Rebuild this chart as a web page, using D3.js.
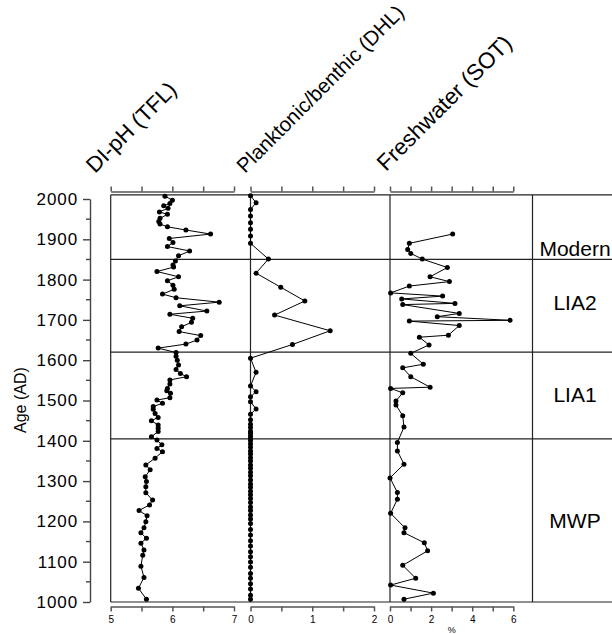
<!DOCTYPE html>
<html>
<head>
<meta charset="utf-8">
<script src="https://cdn.jsdelivr.net/npm/d3@7"></script>
<style>
  body { margin: 0; background: #fff; }
  text { font-family: Arial, "Liberation Sans", sans-serif; fill: #000; }
</style>
</head>
<body>
<div id="chart"></div>
<script>
// ---- data (age AD, value) ----
var phYears = [2007,1997,1989,1983,1977,1968,1962,1952,1944,1938,1931,1923,1913,1902,1892,1882,1871,1859,1846,1836,
  1831,1820,1807,1797,1786,1776,1764,1755,1744,1735,1722,1714,1704,1694,1683,1671,1661,1650,1640,1630,
  1619,1610,1600,1588,1577,1567,1559,1551,1541,1530,1524,1518,1507,1501,1493,1485,1478,1468,1458,1450,
  1439,1431,1423,1410,1402,1390,1381,1373,1357,1340,1328,1311,1299,1286,1271,1253,1241,1227,1214,1199,
  1184,1172,1158,1146,1129,1116,1089,1061,1034,1007];
var phValues = [5.88,6.00,5.96,5.86,5.93,5.79,5.92,5.80,5.78,5.80,5.92,6.22,6.62,5.95,6.01,5.92,6.28,6.10,6.05,6.01,
  6.02,5.75,6.10,5.92,6.01,6.03,5.84,6.06,6.76,6.12,6.56,5.96,6.33,6.31,6.15,6.11,6.46,6.40,6.22,5.77,
  6.06,6.06,6.08,6.10,6.06,6.13,6.23,5.96,5.96,5.92,5.91,5.97,5.96,5.75,5.84,5.69,5.69,5.72,5.77,5.66,
  5.77,5.77,5.77,5.66,5.75,5.83,5.75,5.84,5.72,5.57,5.64,5.56,5.58,5.57,5.57,5.68,5.63,5.46,5.59,5.57,
  5.54,5.49,5.58,5.49,5.54,5.52,5.49,5.54,5.45,5.58];

var pbYears = [2008,1991,1974,1958,1941,1925,1908,1890,1851,1816,1781,1747,1712,1673,1639,1605,1570,1536,1522,1509,
  1497,1479,1466,1452,1441,1433,1424,1419,1412,1406,1400,1392,1384,1375,1367,1358,1350,1340,1332,1322,
  1313,1303,1293,1285,1275,1266,1257,1247,1236,1227,1216,1206,1195,1180,1166,1152,1139,1125,1112,1099,
  1086,1071,1059,1045,1032,1017,1007];
var pbValues = [0,0.09,0,0,0,0,0,0,0.29,0.09,0.49,0.88,0.39,1.29,0.68,0,0.09,0,0.09,0,
  0,0.09,0,0,0,0,0,0,0,0,0,0,0,0,0,0,0,0,0,0,
  0,0,0,0,0,0,0,0,0,0,0,0,0,0,0,0,0,0,0,0,
  0,0,0,0,0,0,0];

var fwYears = [1913,1890,1875,1865,1851,1830,1807,1795,1784,1767,1759,1752,1741,1738,1716,1708,1699,1697,1686,1662,
  1657,1638,1617,1590,1581,1559,1533,1530,1519,1499,1489,1462,1434,1396,1375,1342,1308,1272,1255,1220,
  1184,1172,1147,1127,1091,1059,1042,1022,1007];
var fwValues = [3.05,0.94,0.86,1.01,1.57,2.79,1.95,2.89,0.94,0.03,2.56,0.57,3.16,0.62,3.37,2.30,5.84,0.94,3.37,2.84,
  1.43,1.90,1.01,1.62,0.62,1.01,1.95,0.03,0.62,0.29,0.29,0.62,0.68,0.36,0.36,0.68,0,0.36,0.36,0.03,
  0.73,0.68,1.67,1.83,0.62,1.25,0.03,2.11,0.68];

var titles = ["DI-pH (TFL)", "Planktonic/benthic (DHL)", "Freshwater (SOT)"];
var zoneBounds = [1850, 1620, 1405];
var zoneNames = ["Modern", "LIA2", "LIA1", "MWP"];
var zoneLabelYears = [1877, 1742, 1514, 1201];
var ageTicks = d3.range(1000, 2001, 100);
var ageMinor = d3.range(1050, 2000, 100);

var width = 612, height = 634;

var svg = d3.select("#chart")
    .append("svg")
    .attr("width", width)
    .attr("height", height);

// age scale shared by all panels
var y = d3.scaleLinear().domain([1000, 2000]).range([602, 199]);
var topAge = 2010;

var panels = [
  {x: d3.scaleLinear().domain([5, 7]).range([110.7, 234]), left: 110.7, right: 250.5,
   years: phYears, values: phValues, ticks: d3.range(5, 7.01, 0.5), labels: [5, 6, 7],
   title: titles[0], tx: 95, ty: 174, fs: 22},
  {x: d3.scaleLinear().domain([0, 2]).range([250.5, 374]), left: 250.5, right: 390,
   years: pbYears, values: pbValues, ticks: d3.range(0, 2.01, 0.5), labels: [0, 1, 2],
   title: titles[1], tx: 245, ty: 174, fs: 20.5},
  {x: d3.scaleLinear().domain([0, 6]).range([390, 513.3]), left: 390, right: 532.5,
   years: fwYears, values: fwValues, ticks: d3.range(0, 6.01, 1), labels: [0, 2, 4, 6],
   title: titles[2], tx: 386, ty: 172, fs: 22.5}
];

var lineCol = "#222";

// frame: top / bottom and zone boundaries
[topAge, 1000].concat(zoneBounds).forEach(function (a) {
  svg.append("line")
      .attr("x1", 110.7).attr("x2", width)
      .attr("y1", y(a)).attr("y2", y(a))
      .attr("stroke", lineCol).attr("stroke-width", 1.2);
});

// vertical frame lines
[110.7, 250.5, 390, 532.5].forEach(function (x) {
  svg.append("line")
      .attr("x1", x).attr("x2", x)
      .attr("y1", y(topAge)).attr("y2", y(1000))
      .attr("stroke", lineCol).attr("stroke-width", 1.2);
});

// age axis
var yAxis = svg.append("g")
    .attr("transform", "translate(90,0)")
    .call(d3.axisLeft(y).tickValues(ageTicks).tickFormat(d3.format("d")).tickSize(7).tickSizeOuter(0).tickPadding(5));
yAxis.selectAll("text").style("font-size", "17px").style("letter-spacing", "0.9px");
yAxis.selectAll("path, line").attr("stroke", "#444").attr("stroke-width", 1.4);
svg.append("g")
    .attr("transform", "translate(90,0)")
    .selectAll("line")
    .data(ageMinor)
    .enter().append("line")
    .attr("x1", -4).attr("x2", 0)
    .attr("y1", function (d) { return y(d); })
    .attr("y2", function (d) { return y(d); })
    .attr("stroke", "#444").attr("stroke-width", 1.4);

svg.append("text")
    .attr("transform", "translate(26," + y(1501) + ") rotate(-90)")
    .attr("text-anchor", "middle")
    .style("font-size", "16px")
    .text("Age (AD)");

panels.forEach(function (p) {
  // top axis, no labels
  var ta = svg.append("g")
      .attr("transform", "translate(0,191.5)")
      .call(d3.axisTop(p.x).tickValues(p.ticks).tickFormat("").tickSize(5).tickSizeOuter(0));
  ta.selectAll("path, line").attr("stroke", "#555").attr("stroke-width", 1.5);

  // bottom axis
  var ba = svg.append("g")
      .attr("transform", "translate(0,606.5)")
      .call(d3.axisBottom(p.x).tickValues(p.ticks).tickSize(5).tickSizeOuter(0).tickPadding(4)
        .tickFormat(function (d) { return p.labels.indexOf(d) >= 0 ? d : ""; }));
  ba.selectAll("path, line").attr("stroke", "#555").attr("stroke-width", 1.5);
  ba.selectAll("text").style("font-size", "10px");

  // header
  svg.append("text")
      .attr("transform", "translate(" + p.tx + "," + p.ty + ") rotate(-45)")
      .style("font-size", p.fs + "px")
      .text(p.title);

  var pts = p.years.map(function (a, i) { return [a, p.values[i]]; });

  svg.append("path")
      .datum(pts)
      .attr("fill", "none")
      .attr("stroke", "#000")
      .attr("stroke-width", 1)
      .attr("d", d3.line()
        .x(function (d) { return p.x(d[1]); })
        .y(function (d) { return y(d[0]); }));

  svg.append("g").selectAll("circle")
      .data(pts)
      .enter().append("circle")
      .attr("cx", function (d) { return p.x(d[1]); })
      .attr("cy", function (d) { return y(d[0]); })
      .attr("r", 2.5)
      .attr("fill", "#000");
});

// unit label under the freshwater axis
svg.append("text")
    .attr("x", panels[2].x(3))
    .attr("y", 633)
    .attr("text-anchor", "middle")
    .style("font-size", "9px")
    .text("%");

// zone labels
svg.append("g").selectAll("text")
    .data(zoneNames)
    .enter().append("text")
    .attr("x", 575)
    .attr("y", function (d, i) { return y(zoneLabelYears[i]) + 7.5; })
    .attr("text-anchor", "middle")
    .style("font-size", "21px")
    .text(function (d) { return d; });
</script>
</body>
</html>
